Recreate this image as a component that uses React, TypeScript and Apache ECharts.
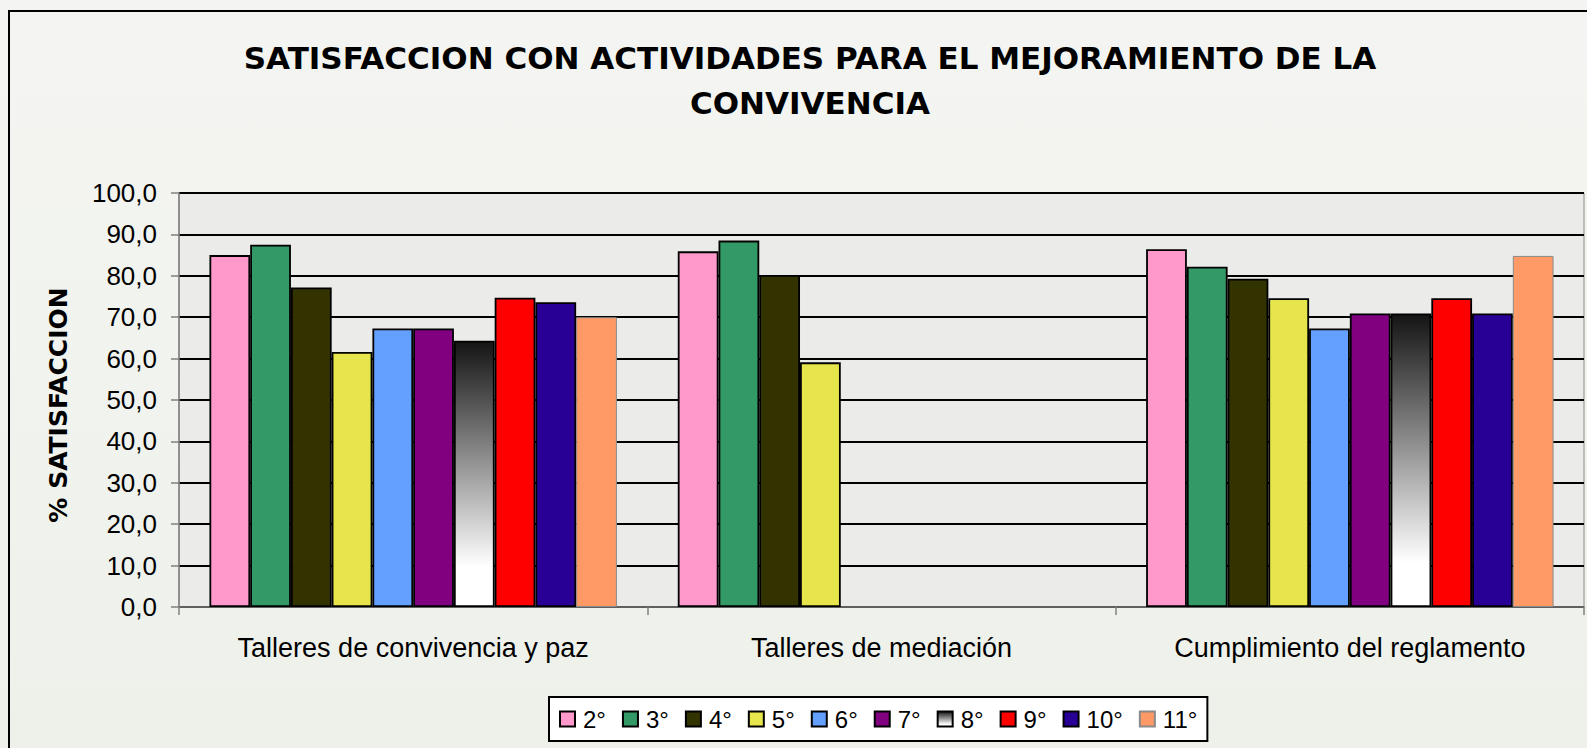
import React, { useEffect, useRef } from "react";
import * as echarts from "echarts";

const categories = ["Talleres de convivencia y paz", "Talleres de mediación", "Cumplimiento del reglamento"];
const grades = ["2°", "3°", "4°", "5°", "6°", "7°", "8°", "9°", "10°", "11°"];
const g2 = [85.0, 85.9, 86.4];
const g3 = [87.5, 88.5, 82.2];
const g4 = [77.2, 80.2, 79.3];
const g5 = [61.6, 59.1, 74.6];
const g6 = [67.3, null, 67.3];
const g7 = [67.3, null, 70.9];
const g8 = [64.3, null, 70.9];
const g9 = [74.7, null, 74.6];
const g10 = [73.6, null, 70.9];
const g11 = [70.0, null, 84.8];
const seriesValues = [g2, g3, g4, g5, g6, g7, g8, g9, g10, g11];
const yTicks = { min: 0, max: 100, interval: 10 };

const titleText = "SATISFACCION CON ACTIVIDADES PARA EL MEJORAMIENTO DE LA\nCONVIVENCIA";
const yName = "% SATISFACCION";

const FONT = "'Liberation Sans', Arial, sans-serif";
const BOLD = "'DejaVu Sans', Verdana, sans-serif";

export default function App() {
  const ref = useRef<HTMLDivElement>(null);
  useEffect(() => {
    if (!ref.current) return;
    const chart = echarts.init(ref.current, null, { renderer: "svg" });
    const grad = new echarts.graphic.LinearGradient(0, 0, 0, 1, [
      { offset: 0, color: "#141414" },
      { offset: 0.85, color: "#ffffff" },
      { offset: 1, color: "#ffffff" },
    ]);
    const colors: any[] = ["#ff99cc", "#339966", "#333300", "#e6e64c", "#63a0ff", "#800080", grad, "#ff0000", "#290096", "#ff9966"];
    const series = grades.map((g, i) => ({
      name: g,
      type: "bar",
      data: seriesValues[i],
      barGap: "0%",
      barCategoryGap: "13%",
      itemStyle: {
        color: colors[i],
        borderColor: i === 9 ? "#8a8a8a" : "#000",
        borderWidth: i === 9 ? 1 : 1.8,
      },
    }));
    chart.setOption({
      animation: false,
      backgroundColor: new echarts.graphic.LinearGradient(0, 0, 0, 1, [
        { offset: 0, color: "#f4f5f2" },
        { offset: 1, color: "#eef1ea" },
      ]),
      title: {
        text: titleText,
        left: 810,
        top: 35,
        padding: 0,
        textAlign: "center",
        textStyle: { fontFamily: BOLD, fontWeight: "bold", fontSize: 31, lineHeight: 45, color: "#000" },
      },
      legend: {
        data: grades,
        left: 549,
        top: 697,
        orient: "horizontal",
        backgroundColor: "#fff",
        borderColor: "#000",
        borderWidth: 2,
        padding: [10, 10, 10, 10],
        itemWidth: 15,
        itemHeight: 15,
        itemGap: 16,
        icon: "rect",
        textStyle: { fontFamily: FONT, fontSize: 24, color: "#000", padding: [0, 0, 0, 3] },
      },
      grid: {
        left: 179,
        right: 3,
        top: 193,
        bottom: 141,
        show: true,
        backgroundColor: "#ebebe9",
        borderColor: "#8c8c8c",
        borderWidth: 1,
      },
      xAxis: {
        type: "category",
        data: categories,
        axisLine: { lineStyle: { color: "#808080", width: 1.5 } },
        axisTick: { show: true, length: 8, lineStyle: { color: "#808080", width: 1.5 } },
        axisLabel: { fontFamily: FONT, fontSize: 27, color: "#000", margin: 27 },
      },
      yAxis: {
        type: "value",
        min: yTicks.min,
        max: yTicks.max,
        interval: yTicks.interval,
        axisLine: { show: true, lineStyle: { color: "#808080", width: 1.5 } },
        axisTick: { show: true, length: 8, lineStyle: { color: "#808080", width: 1.5 } },
        axisLabel: {
          fontFamily: FONT,
          fontSize: 26,
          color: "#000",
          margin: 22,
          formatter: (v: number) => v.toFixed(1).replace(".", ","),
        },
        splitLine: { show: true, lineStyle: { color: "#000", width: 1.8 } },
      },
      graphic: [
        {
          type: "rect",
          shape: { x: 9, y: 11, width: 1620, height: 780 },
          style: { fill: "none", stroke: "#000", lineWidth: 2 },
          silent: true,
          z: 100,
        },
        {
          type: "text",
          x: 58,
          y: 405,
          rotation: Math.PI / 2,
          style: {
            text: yName,
            font: `bold 25px ${BOLD}`,
            fill: "#000",
            textAlign: "center",
            textVerticalAlign: "middle",
          },
        },
      ],
      series,
    });
    return () => chart.dispose();
  }, []);
  return <div ref={ref} style={{ position: "fixed", left: 0, top: 0, width: 1587, height: 748 }} />;
}
